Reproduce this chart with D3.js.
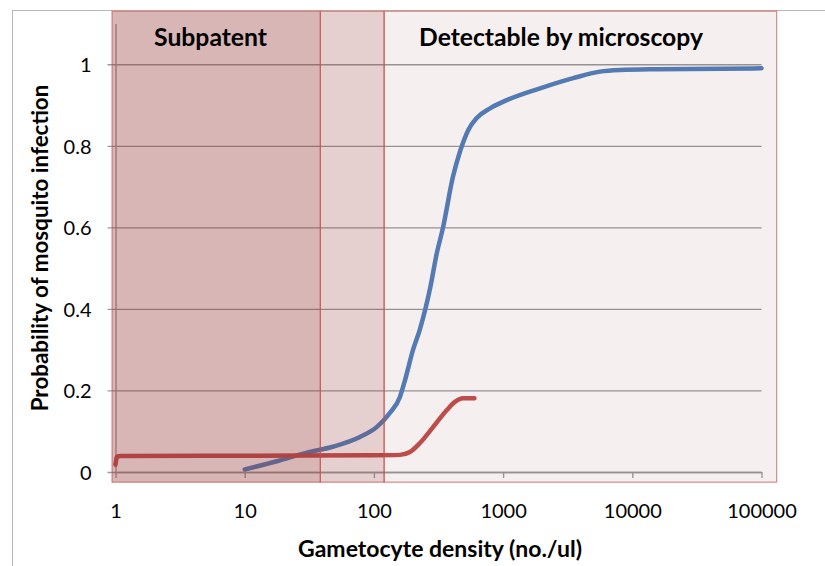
<!DOCTYPE html>
<html>
<head>
<meta charset="utf-8">
<script src="https://cdn.jsdelivr.net/npm/d3@7"></script>
<style>
  body { margin: 0; background: #fff; }
  svg text { font-family: Lato, "Open Sans", sans-serif; fill: #000; }
</style>
</head>
<body>
<svg id="chart" width="825" height="566"></svg>
<script>
// Gametocyte density (no./ul) vs probability of mosquito infection
var blueDensity = [10, 18, 30, 48, 78, 105, 133, 159, 174, 201, 227, 272, 307, 343, 409, 464, 538, 625, 793, 1067, 1932, 3491, 5623, 8036, 15490, 100000];
var blueProb    = [0.006, 0.027, 0.047, 0.062, 0.086, 0.11, 0.145, 0.184, 0.225, 0.30, 0.35, 0.45, 0.537, 0.60, 0.724, 0.786, 0.839, 0.868, 0.892, 0.912, 0.941, 0.966, 0.982, 0.986, 0.988, 0.99];

var redDensity = [1, 1.03, 1.1, 10, 100, 159, 190, 227, 287, 367, 424, 490, 600];
var redProb    = [0.018, 0.038, 0.039, 0.04, 0.041, 0.042, 0.049, 0.071, 0.11, 0.152, 0.172, 0.181, 0.181];

// shaded detection zones (density bounds)
var zoneStart   = [0.94, 38.5, 120];
var zoneEnd     = [38.5, 120, 131000];
var zoneOpacity = [0.35, 0.23, 0.08];
var zoneLabels  = ["Subpatent", "", "Detectable by microscopy"];
var zoneLabelX  = [5.44, 0, 2806];

var xTicks = [1, 10, 100, 1000, 10000, 100000];
var yTicks = [0, 0.2, 0.4, 0.6, 0.8, 1];

var svg = d3.select("#chart");

var xScale = d3.scaleLog()
    .domain([1, 100000])
    .range([115.5, 761.5]);

var yScale = d3.scaleLinear()
    .domain([0, 1.1])
    .range([472, 23.5]);

// outer chart border
svg.append("rect")
    .attr("x", 12.5).attr("y", 10.5)
    .attr("width", 900).attr("height", 700)
    .attr("fill", "none")
    .attr("stroke", "#b8b8b8");

// y axis + gridlines
var yAxis = d3.axisLeft(yScale)
    .tickValues(yTicks)
    .tickFormat(function(d){ return d3.format("")(+d.toFixed(1)); })
    .tickSizeInner(-(761.5 - 115.5))
    .tickSizeOuter(0)
    .tickPadding(24);

var yG = svg.append("g")
    .attr("transform", "translate(115.5,0)")
    .call(yAxis);
yG.select(".domain").attr("stroke", "#999").attr("stroke-width", 1.3);
yG.selectAll(".tick line")
    .attr("x1", -8)
    .attr("stroke", "#9a9a9a")
    .attr("stroke-width", 1.3);
yG.selectAll(".tick text")
    .style("font-size", "20px")
    .attr("dy", "0.36em");

// x axis
var xAxis = d3.axisBottom(xScale)
    .tickValues(xTicks)
    .tickFormat(d3.format("d"))
    .tickSizeInner(6)
    .tickSizeOuter(0)
    .tickPadding(26);

var xG = svg.append("g")
    .attr("transform", "translate(0,472)")
    .call(xAxis);
xG.select(".domain").attr("stroke", "#999").attr("stroke-width", 1.3);
xG.selectAll(".tick line").attr("stroke", "#999").attr("stroke-width", 1.3);
xG.selectAll(".tick text").style("font-size", "20px");

// curves
var line = d3.line()
    .x(function(d){ return xScale(d[0]); })
    .y(function(d){ return yScale(d[1]); })
    .curve(d3.curveMonotoneX);

svg.append("path")
    .datum(blueDensity.map(function(d, i){ return [d, blueProb[i]]; }))
    .attr("d", line)
    .attr("fill", "none")
    .attr("stroke", "#4f81bd")
    .attr("stroke-width", 4.5)
    .attr("stroke-linecap", "round");

svg.append("path")
    .datum(redDensity.map(function(d, i){ return [d, redProb[i]]; }))
    .attr("d", line)
    .attr("fill", "none")
    .attr("stroke", "#c0504d")
    .attr("stroke-width", 4.5)
    .attr("stroke-linecap", "round");

// translucent zones drawn on top
svg.selectAll("rect.zone")
    .data(zoneStart)
    .enter()
    .append("rect")
    .attr("class", "zone")
    .attr("x", function(d){ return xScale(d); })
    .attr("width", function(d, i){ return xScale(zoneEnd[i]) - xScale(d); })
    .attr("y", yScale(1.13))
    .attr("height", yScale(-0.025) - yScale(1.13))
    .attr("fill", "rgb(146,47,47)")
    .attr("fill-opacity", function(d, i){ return zoneOpacity[i]; })
    .attr("stroke", "rgb(200,80,77)")
    .attr("stroke-opacity", 0.65)
    .attr("stroke-width", 1.2);

// fit a text's font size to a given width
function fitText(sel, target) {
    var len = sel.node().getComputedTextLength();
    var fs = parseFloat(sel.style("font-size"));
    sel.style("font-size", (fs * target / len) + "px");
}

var zoneTargets = [113, 0, 284];
zoneLabels.forEach(function(lbl, i){
    if (!lbl) return;
    var t = svg.append("text")
        .attr("x", xScale(zoneLabelX[i]))
        .attr("y", yScale(1.045))
        .attr("text-anchor", "middle")
        .style("font-size", "22px")
        .style("font-weight", "bold")
        .text(lbl);
    fitText(t, zoneTargets[i]);
});

// axis titles
var xTitle = svg.append("text")
    .attr("x", 440)
    .attr("y", 557)
    .attr("text-anchor", "middle")
    .style("font-size", "20px")
    .style("font-weight", "bold")
    .text("Gametocyte density (no./ul)");
fitText(xTitle, 284);

var yTitle = svg.append("text")
    .attr("transform", "translate(48,248) rotate(-90)")
    .attr("text-anchor", "middle")
    .style("font-size", "20px")
    .style("font-weight", "bold")
    .text("Probability of mosquito infection");
fitText(yTitle, 327);
</script>
</body>
</html>
